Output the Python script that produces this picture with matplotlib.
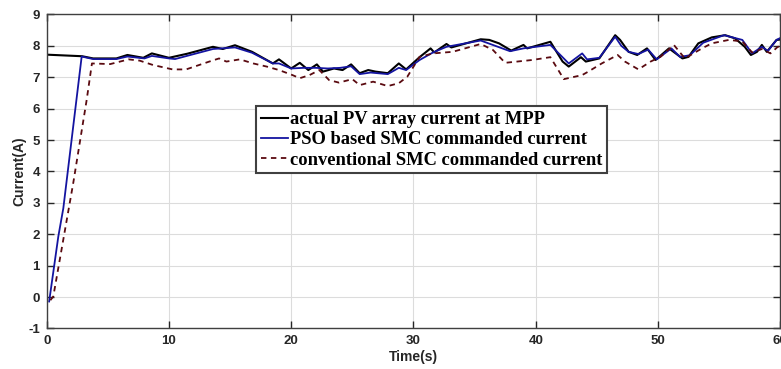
import matplotlib
matplotlib.use('Agg')
from matplotlib import pyplot as plt

# actual PV array current at MPP
t_actual = [0, 2.9, 3.8, 5.7, 6.6, 7.9, 8.6, 10.0, 11.5, 13.6, 14.4, 15.4, 16.8, 18.5, 19.0, 20.0,
            20.7, 21.4, 22.1, 22.6, 23.5, 24.2, 24.9, 25.6, 26.3, 26.9, 27.9, 28.8, 29.4, 30.5,
            31.4, 31.7, 32.7, 33.1, 34.3, 35.5, 36.2, 37.0, 38.0, 39.0, 39.3, 41.2, 42.2, 42.7,
            43.7, 44.1, 45.2, 46.5, 46.9, 47.6, 48.3, 49.1, 49.8, 50.9, 52.0, 52.5, 53.3, 54.4,
            55.5, 56.3, 57.1, 57.6, 58.1, 58.5, 58.9, 59.7, 60]
i_actual = [7.72, 7.67, 7.60, 7.60, 7.71, 7.62, 7.76, 7.62, 7.75, 7.97, 7.90, 8.02, 7.81, 7.44,
            7.57, 7.28, 7.46, 7.23, 7.41, 7.18, 7.28, 7.23, 7.41, 7.13, 7.23, 7.18, 7.13, 7.44,
            7.25, 7.64, 7.92, 7.79, 8.06, 7.95, 8.08, 8.21, 8.19, 8.08, 7.85, 8.03, 7.92, 8.13,
            7.50, 7.34, 7.64, 7.50, 7.60, 8.34, 8.19, 7.81, 7.71, 7.92, 7.55, 7.92, 7.60, 7.65,
            8.08, 8.27, 8.34, 8.24, 7.97, 7.71, 7.81, 8.03, 7.81, 8.19, 8.20]

# PSO based SMC commanded current
t_pso = [0.2, 0.95, 1.36, 2.86, 3.8, 5.7, 6.6, 8.0, 8.6, 10.0, 10.5, 13.6, 15.4, 16.8, 18.5,
         19.0, 20.0, 21.0, 22.0, 23.0, 24.0, 24.9, 25.6, 26.5, 27.9, 28.8, 29.4, 30.5, 31.6,
         32.7, 35.5, 37.9, 39.0, 41.2, 42.7, 43.8, 44.2, 45.2, 46.5, 47.0, 47.6, 48.4, 49.2,
         49.9, 51.1, 51.8, 52.6, 53.7, 55.4, 56.9, 57.7, 58.5, 59.0, 59.7, 60]
i_pso = [-0.14, 1.93, 2.83, 7.66, 7.58, 7.58, 7.66, 7.60, 7.68, 7.60, 7.58, 7.90, 7.95, 7.78,
         7.44, 7.44, 7.28, 7.30, 7.30, 7.28, 7.30, 7.35, 7.10, 7.15, 7.10, 7.30, 7.23, 7.55,
         7.79, 7.97, 8.17, 7.83, 7.92, 8.03, 7.44, 7.76, 7.57, 7.62, 8.29, 8.00, 7.81, 7.74,
         7.88, 7.57, 7.92, 7.65, 7.70, 8.10, 8.34, 8.19, 7.76, 7.97, 7.84, 8.19, 8.25]

# conventional SMC commanded current
t_conv = [0.3, 0.54, 2.17, 3.27, 3.7, 5.2, 6.7, 7.6, 8.7, 10.3, 11.4, 13.3, 14.1, 14.7, 15.8,
          16.9, 18.0, 19.0, 20.1, 20.7, 21.5, 22.3, 23.1, 23.9, 25.0, 25.6, 26.7, 27.9, 28.8,
          29.5, 30.5, 31.6, 33.2, 35.5, 36.5, 37.5, 39.7, 41.2, 42.3, 43.8, 44.3, 45.4, 46.7,
          47.3, 48.4, 49.4, 50.2, 51.3, 52.2, 53.6, 54.4, 55.8, 56.9, 57.7, 58.5, 59.2, 59.8, 60]
i_conv = [-0.1, 0.02, 3.63, 6.28, 7.44, 7.42, 7.57, 7.53, 7.39, 7.25, 7.25, 7.50, 7.60, 7.50,
          7.57, 7.44, 7.34, 7.23, 7.07, 6.97, 7.07, 7.23, 6.91, 6.83, 6.94, 6.75, 6.86, 6.72,
          6.81, 7.02, 7.65, 7.76, 7.81, 8.06, 7.87, 7.46, 7.55, 7.64, 6.94, 7.07, 7.18, 7.44,
          7.71, 7.50, 7.25, 7.50, 7.65, 8.03, 7.60, 7.92, 8.08, 8.19, 8.14, 7.79, 7.90, 7.76,
          7.97, 7.98]

labels = ['actual PV array current at MPP', 'PSO based SMC commanded current',
          'conventional SMC commanded current']
xticks = [0, 10, 20, 30, 40, 50, 60]
yticks = [-1, 0, 1, 2, 3, 4, 5, 6, 7, 8, 9]

plt.rcParams['axes.unicode_minus'] = False

fig = plt.figure(figsize=(7.81, 3.69), dpi=100)
ax = fig.add_axes([0.0598, 0.1098, 0.9392, 0.851])

ax.plot(t_actual, i_actual, color='black', lw=1.5, label=labels[0])
ax.plot(t_pso, i_pso, color='#1414a0', lw=1.3, label=labels[1])
ax.plot(t_conv, i_conv, color='#5a0a10', lw=1.3, ls=(0, (3, 2.5)), label=labels[2])

ax.set_xlim(0, 60)
ax.set_ylim(-1, 9)
ax.set_xticks(xticks)
ax.set_yticks(yticks)
ax.grid(True, color='#dcdcdc', lw=0.8)
ax.set_axisbelow(True)

tick_color = '#262626'
ax.tick_params(direction='in', top=True, right=True, length=5, width=1, colors=tick_color,
               labelsize=9.5, pad=5)
for lab in ax.get_xticklabels() + ax.get_yticklabels():
    lab.set_fontweight('bold')
    lab.set_family('Liberation Sans')
for sp in ax.spines.values():
    sp.set_color('#404040')
    sp.set_linewidth(1.0)

ax.set_xlabel('Time(s)', fontsize=10, fontweight='bold', family='Liberation Sans',
              color=tick_color, labelpad=2)
ax.set_ylabel('Current(A)', fontsize=10, fontweight='bold', family='Liberation Sans',
              color=tick_color, labelpad=1)

leg = ax.legend(loc='upper left', bbox_to_anchor=(0.2855, 0.707), fancybox=False,
                framealpha=1, edgecolor='#404040', handlelength=1.5, handletextpad=0.1,
                borderpad=0.25, labelspacing=0.18, borderaxespad=0,
                prop={'family': 'Liberation Serif', 'weight': 'bold', 'size': 13.3})
leg.get_frame().set_linewidth(1.5)

fig.savefig('out.png', dpi=100)
